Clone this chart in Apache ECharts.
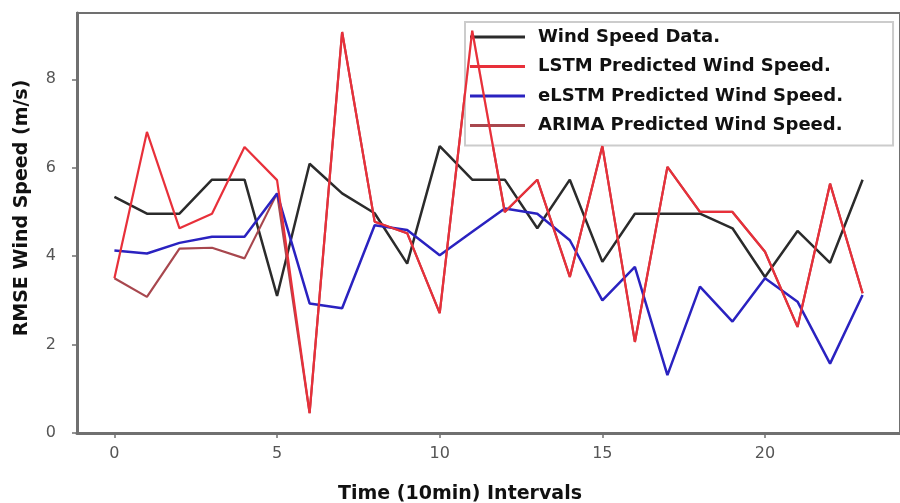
<!DOCTYPE html>
<html>
<head>
<meta charset="utf-8">
<script src="https://cdn.jsdelivr.net/npm/echarts@6/dist/echarts.min.js"></script>
<style>
  html, body { margin: 0; padding: 0; background: #ffffff; }
  #chart { width: 900px; height: 503px; }
</style>
</head>
<body>
<div id="chart"></div>
<script>
// Time steps (10-minute intervals)
const steps = [0,1,2,3,4,5,6,7,8,9,10,11,12,13,14,15,16,17,18,19,20,21,22,23];

// RMSE wind speed per interval (m/s)
const windData  = [5.34, 4.96, 4.96, 5.73, 5.73, 3.10, 6.09, 5.42, 4.97, 3.83, 6.49, 5.73, 5.73, 4.63, 5.73, 3.87, 4.96, 4.96, 4.96, 4.63, 3.53, 4.57, 3.85, 5.73];
const lstmPred  = [3.50, 6.81, 4.63, 4.96, 6.47, 5.72, 0.45, 9.07, 4.78, 4.52, 2.71, 9.10, 5.00, 5.73, 3.53, 6.49, 2.06, 6.02, 5.00, 5.00, 4.10, 2.40, 5.64, 3.16];
const elstmPred = [4.13, 4.06, 4.30, 4.44, 4.44, 5.42, 2.93, 2.82, 4.70, 4.59, 4.02, 4.55, 5.08, 4.96, 4.36, 3.00, 3.76, 1.31, 3.31, 2.52, 3.50, 2.97, 1.57, 3.12];
const arimaPred = [3.50, 3.08, 4.17, 4.19, 3.95, 5.42, 0.45, 9.07, 4.78, 4.52, 2.71, 9.10, 5.00, 5.73, 3.53, 6.49, 2.06, 6.02, 5.00, 5.00, 4.10, 2.40, 5.64, 3.16];

const seriesNames = [
  'Wind Speed Data.',
  'LSTM Predicted Wind Speed.',
  'eLSTM Predicted Wind Speed.',
  'ARIMA Predicted Wind Speed.'
];

// Tick positions
const xTicks = [0, 5, 10, 15, 20];
const yTicks = [0, 2, 4, 6, 8];

const pairs = vals => steps.map((s, i) => [s, vals[i]]);

const chart = echarts.init(document.getElementById('chart'), null, { renderer: 'canvas' });

const tickLabelStyle = {
  color: '#555555',
  fontSize: 16,
  fontFamily: 'DejaVu Sans'
};

chart.setOption({
  animation: false,
  backgroundColor: '#ffffff',
  grid: {
    left: 77, top: 13, width: 831, height: 420,
    show: true,
    borderColor: '#707070',
    borderWidth: 2,
    backgroundColor: 'transparent'
  },
  xAxis: {
    type: 'value',
    min: -1.15, max: 24.15,
    axisLine: { show: true, onZero: false, lineStyle: { color: '#707070', width: 3 } },
    axisTick: { show: true, customValues: xTicks, length: 5, lineStyle: { color: '#707070', width: 1.5 } },
    axisLabel: { customValues: xTicks, margin: 13, ...tickLabelStyle },
    splitLine: { show: false }
  },
  yAxis: {
    type: 'value',
    min: 0, max: 9.5,
    axisLine: { show: true, onZero: false, lineStyle: { color: '#707070', width: 3 } },
    axisTick: { show: true, customValues: yTicks, length: 5, lineStyle: { color: '#707070', width: 1.5 } },
    axisLabel: { customValues: yTicks, margin: 21, ...tickLabelStyle },
    splitLine: { show: false }
  },
  legend: {
    orient: 'vertical',
    left: 465, top: 22,
    padding: [5, 50, 10, 5],
    itemWidth: 55, itemHeight: 3,
    itemGap: 9.5,
    icon: 'rect',
    backgroundColor: 'rgba(255,255,255,0.8)',
    borderColor: '#cccccc',
    borderWidth: 2,
    textStyle: { color: '#111111', fontSize: 18, fontWeight: 'bold', fontFamily: 'DejaVu Sans', lineHeight: 20, padding: [0, 0, 0, 8] },
    data: seriesNames
  },
  graphic: [
    {
      type: 'text',
      x: 338, y: 485,
      style: {
        text: 'Time (10min) Intervals',
        fill: '#111111',
        font: 'bold 19px "DejaVu Sans"'
      }
    },
    {
      type: 'text',
      x: 22, y: 208,
      rotation: Math.PI / 2,
      style: {
        text: 'RMSE Wind Speed (m/s)',
        fill: '#111111',
        font: 'bold 19px "DejaVu Sans"',
        align: 'center',
        verticalAlign: 'middle'
      }
    }
  ],
  series: [
    { name: seriesNames[0], type: 'line', data: pairs(windData), showSymbol: false, z: 2,
      itemStyle: { color: '#2b2b2b' }, lineStyle: { color: '#2b2b2b', width: 2.5 } },
    { name: seriesNames[1], type: 'line', data: pairs(lstmPred), showSymbol: false, z: 4,
      itemStyle: { color: '#e8303a' }, lineStyle: { color: '#e8303a', width: 2.2 } },
    { name: seriesNames[2], type: 'line', data: pairs(elstmPred), showSymbol: false, z: 3,
      itemStyle: { color: '#2a22c0' }, lineStyle: { color: '#2a22c0', width: 2.5 } },
    { name: seriesNames[3], type: 'line', data: pairs(arimaPred), showSymbol: false, z: 2,
      itemStyle: { color: '#a8474e' }, lineStyle: { color: '#a8474e', width: 2.2 } }
  ]
});
</script>
</body>
</html>
